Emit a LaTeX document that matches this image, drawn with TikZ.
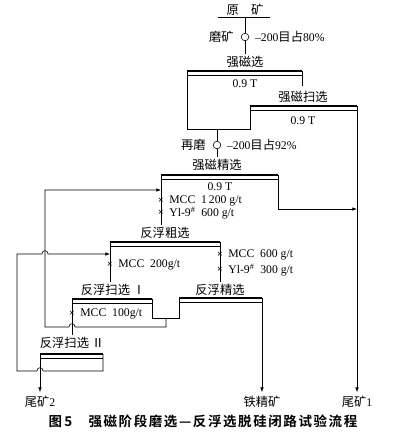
\documentclass[tikz,border=0pt]{standalone}
\usepackage{fontspec}
\setmainfont{Liberation Serif}
\newfontfamily\cjk[Scale=1.05]{Noto Sans CJK SC}
\newfontfamily\capfont[LetterSpace=12]{Noto Sans CJK SC Bold}
\usetikzlibrary{arrows.meta}
\usetikzlibrary{positioning}
\newcommand{\opbar}[3]% left x, right x, y
{\draw[line width=1.2pt] (#1,#3) -- (#2,#3);
 \draw[line width=0.4pt] (#1,#3+4) -- (#2,#3+4);
}

\begin{document}
\begin{tikzpicture}[x=0.03cm,y=-0.03cm,line width=0.5pt,
	font=\fontsize{10}{11}\selectfont,
	mill/.style={circle,draw,inner sep=0pt,minimum size=6.5pt},
	dose/.style={inner sep=0pt,font=\fontsize{8.5}{8.5}\selectfont\bfseries},
	dosetext/.style={anchor=west,inner sep=0pt},
	tip/.style={-{Latex[length=4pt,width=3pt]}}]
	\useasboundingbox (0,0) rectangle (406,437);
	% feed and primary grinding
	\node (ore) at (245,10){\cjk 原\quad 矿};
	\draw (218,17) -- (270,17);
	\node[mill] (mill1) at (245,37){};
	\node[left=2.5pt of mill1] (grindA){\cjk 磨矿};
	\node[right=1.5pt of mill1] (sizeA){--200{\cjk 目占}80\%};
	\draw (245,17) -- (mill1.north);
	\draw (mill1.south) -- (245,54);
	% high intensity magnetic rougher + scavenger
	\node (hms) at (245,62){\cjk 强磁选};
	\opbar{187}{302}{71}
	\node (hmsT) at (245,84){0.9 T};
	\draw (302,71) -- (302,86);
	\draw (187,71) -- (187,129) -- (250,129) -- (250,106);
	\node (scav) at (303,97){\cjk 强磁扫选};
	\opbar{250}{357}{106}
	\node (scavT) at (303,121){0.9 T};
	% regrinding
	\node[mill] (mill2) at (217,145){};
	\node[left=2.5pt of mill2] (grindB){\cjk 再磨};
	\node[right=1.5pt of mill2] (sizeB){--200{\cjk 目占}92\%};
	\draw (217,129) -- (mill2.north);
	\draw (mill2.south) -- (217,157);
	% magnetic cleaner
	\node (clean) at (217,165){\cjk 强磁精选};
	\opbar{161}{278}{175}
	\node (cleanT) at (220,187){0.9 T};
	\draw (161,175) -- (161,225);
	\node[dose] (dA) at (161,201){×};
	\node[dosetext] (tA) at (169,201){MCC\ \ 1\,200 g/t};
	\node[dose] (dB) at (161,213){×};
	\node[dosetext] (tB) at (169,213){Yl-9\textsuperscript{\#}\ \ 600 g/t};
	\draw[tip] (278,175) -- (278,209) -- (357,209);
	% reverse flotation rougher
	\node (rough) at (165,233){\cjk 反浮粗选};
	\opbar{110}{220}{242}
	\draw (110,242) -- (110,282);
	\draw (220,242) -- (220,282);
	\node[dose] (dC) at (110,265){×};
	\node[dosetext] (tC) at (118,265){MCC\ \ 200g/t};
	\node[dose] (dD) at (220,255){×};
	\node[dosetext] (tD) at (228,255){MCC\ \ 600 g/t};
	\node[dose] (dE) at (220,270){×};
	\node[dosetext] (tE) at (228,270){Yl-9\textsuperscript{\#}\ \ 300 g/t};
	% scavenger I and cleaner
	\node (scavI) at (113,290){\cjk 反浮扫选 Ⅰ};
	\opbar{72}{152}{299}
	\node (cleanF) at (220,290){\cjk 反浮精选};
	\opbar{179}{262}{298}
	\node[dose] (dF) at (72,314){×};
	\node[dosetext] (tF) at (80,314){MCC\ \ 100g/t};
	\draw (72,299) -- (72,335);
	\draw (152,299) -- (152,318) -- (179,318) -- (179,298);
	% middlings back to magnetic cleaner
	\draw[tip] (166,318) -- (166,327) -- (75,327)
		.. controls (75,322.5) and (69,322.5) .. (69,327) -- (45,327)
		-- (45,190) -- (161,190);
	% scavenger II
	\node (scavII) at (72,343){\cjk 反浮扫选 Ⅱ};
	\opbar{40}{103}{354}
	\draw[tip] (103,354) -- (103,371) -- (43,371)
		.. controls (43,366.5) and (37,366.5) .. (37,371) -- (17,371)
		-- (17,254) -- (42,254)
		.. controls (42,249.5) and (48,249.5) .. (48,254) -- (110,254);
	% products
	\node (tail2) at (40,402){{\cjk 尾矿}2};
	\node (conc) at (262,402){\cjk 铁精矿};
	\node (tail1) at (357,402){{\cjk 尾矿}1};
	\draw[tip] (40,354) -- (tail2.north);
	\draw[tip] (262,298) -- (conc.north);
	\draw[tip] (357,106) -- (tail1.north);
	\node[font=\fontsize{11.5}{12}\selectfont\capfont] (cap) at (203,421){图\,5\hspace{1.2em}强磁阶段磨选—反浮选脱硅闭路试验流程};
\end{tikzpicture}
\end{document}
